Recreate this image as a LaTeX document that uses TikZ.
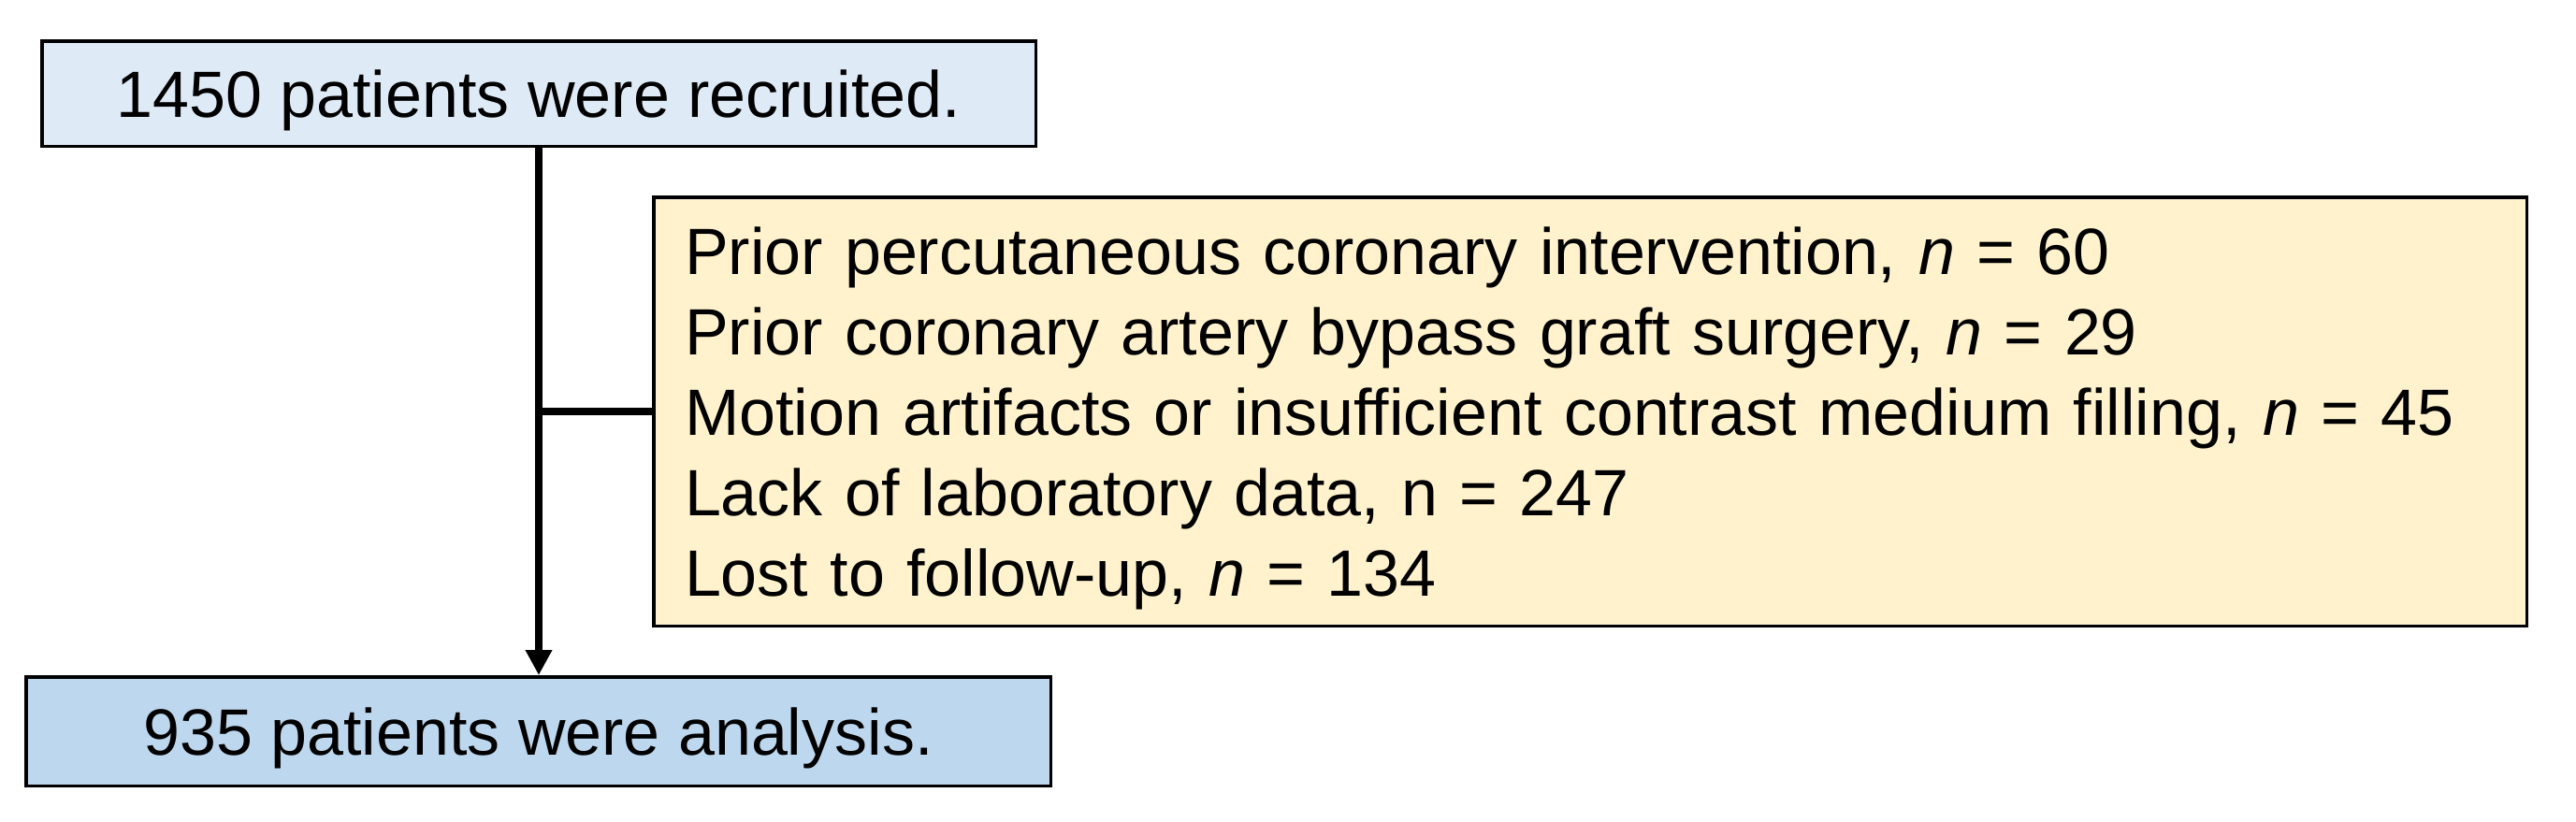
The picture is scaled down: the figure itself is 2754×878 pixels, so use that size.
\documentclass[tikz,border=0pt]{standalone}
\usepackage{fontspec}
\setmainfont{Liberation Sans}
\usetikzlibrary{arrows.meta}
\definecolor{topblue}{HTML}{DEEBF7}
\definecolor{botblue}{HTML}{BDD7EE}
\definecolor{exclyellow}{HTML}{FFF2CC}
\tikzset{
  flowbox/.style={draw=black, line width=3.5pt, rectangle, inner sep=0pt,
    font=\fontsize{70}{86}\selectfont, text height=51pt, text depth=0pt},
  exclbox/.style={draw=black, line width=3.5pt, rectangle, fill=exclyellow,
    inner xsep=33pt, inner ysep=0pt, align=left, text width=1936pt,
    font=\fontsize{70}{86}\selectfont, text height=51pt, text depth=344pt},
  flowline/.style={line width=7.5pt, draw=black},
}
\begin{document}
\begin{tikzpicture}[x=1pt, y=-1pt]
\useasboundingbox (0,0) rectangle (2754,878);
\node[flowbox, fill=topblue, minimum width=1062.5pt, minimum height=112.5pt] (top) at (576,100) {1450 patients were recruited.};
\node[flowbox, fill=botblue, minimum width=1095.5pt, minimum height=116.5pt] (bot) at (575.5,782) {935 patients were analysis.};
\node[exclbox, minimum width=2002.5pt, minimum height=458.5pt] (excl) at (1700,440) {Prior percutaneous coronary intervention, \textit{n} = 60\\
Prior coronary artery bypass graft surgery, \textit{n} = 29\\
Motion artifacts or insufficient contrast medium filling, \textit{n} = 45\\
Lack of laboratory data, n = 247\\
Lost to follow-up, \textit{n} = 134};
\draw[flowline, -{Triangle[length=27pt 0 0, width=27pt 0 0]}] (top.south) -- (top.south |- bot.north);
\draw[flowline] (excl.west) -- (excl.west -| top.south);
\end{tikzpicture}
\end{document}
